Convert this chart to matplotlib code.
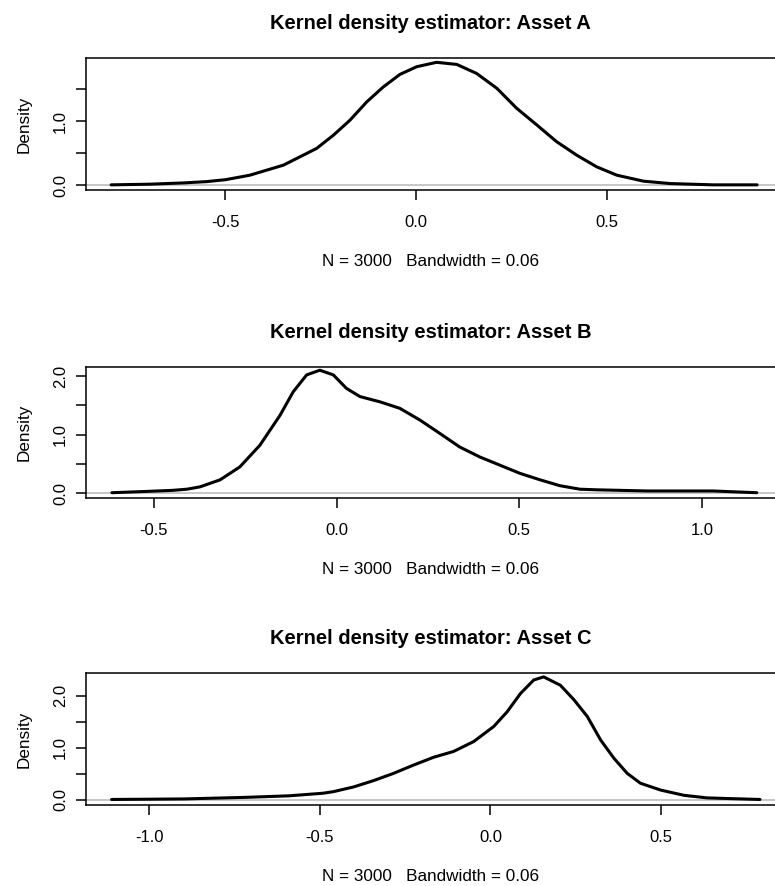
"""Three kernel density panels (Assets A, B, C) in the style of R's plot(density())."""
import matplotlib
matplotlib.use("Agg")
import matplotlib.pyplot as plt

plt.rcParams["font.family"] = ["Liberation Sans", "DejaVu Sans"]

# values
asset_a_x = [-0.80, -0.70, -0.61, -0.55, -0.50, -0.436, -0.348, -0.261, -0.217, -0.173,
             -0.129, -0.086, -0.042, 0.002, 0.054, 0.107, 0.159, 0.212, 0.264, 0.317,
             0.369, 0.422, 0.474, 0.527, 0.597, 0.667, 0.78, 0.895]
asset_a_y = [0.01, 0.02, 0.04, 0.06, 0.09, 0.16, 0.316, 0.575, 0.78, 1.016,
             1.30, 1.53, 1.726, 1.845, 1.913, 1.88, 1.74, 1.51, 1.20, 0.94,
             0.68, 0.47, 0.29, 0.16, 0.067, 0.03, 0.01, 0.01]

asset_b_x = [-0.615, -0.53, -0.45, -0.41, -0.374, -0.319, -0.265, -0.21, -0.155, -0.119,
             -0.082, -0.046, -0.009, 0.027, 0.064, 0.119, 0.173, 0.228, 0.283, 0.337,
             0.392, 0.447, 0.502, 0.557, 0.611, 0.666, 0.71, 0.85, 1.03, 1.15]
asset_b_y = [0.01, 0.03, 0.05, 0.07, 0.11, 0.23, 0.45, 0.82, 1.33, 1.73,
             2.02, 2.10, 2.02, 1.79, 1.65, 1.56, 1.45, 1.25, 1.02, 0.79,
             0.62, 0.48, 0.34, 0.23, 0.13, 0.07, 0.06, 0.04, 0.04, 0.01]

asset_c_x = [-1.11, -0.90, -0.72, -0.59, -0.49, -0.46, -0.401, -0.343, -0.284, -0.225,
             -0.166, -0.108, -0.049, 0.01, 0.049, 0.088, 0.127, 0.156, 0.205, 0.245,
             0.284, 0.323, 0.362, 0.401, 0.44, 0.499, 0.567, 0.635, 0.79]
asset_c_y = [0.01, 0.02, 0.05, 0.08, 0.13, 0.16, 0.25, 0.37, 0.51, 0.67,
             0.82, 0.93, 1.12, 1.41, 1.69, 2.04, 2.30, 2.36, 2.20, 1.92,
             1.60, 1.15, 0.80, 0.51, 0.32, 0.19, 0.09, 0.04, 0.01]

titles = ["Kernel density estimator: Asset A",
          "Kernel density estimator: Asset B",
          "Kernel density estimator: Asset C"]
subtitle = "N = 3000   Bandwidth = 0.06"

x_ticks = [[-0.5, 0.0, 0.5], [-0.5, 0.0, 0.5, 1.0], [-1.0, -0.5, 0.0, 0.5]]
y_ticks = [[0.0, 0.5, 1.0, 1.5], [0.0, 0.5, 1.0, 1.5, 2.0], [0.0, 0.5, 1.0, 1.5, 2.0]]
x_limits = [(-0.866, 0.942), (-0.686, 1.2), (-1.185, 0.834)]
y_limits = [(-0.07, 1.98), (-0.08, 2.16), (-0.096, 2.44)]

W, H = 775, 886
# (top, bottom) of each panel in pixels
panel_px = [(58, 190), (366.7, 498), (672.7, 805)]
left_px, right_px = 86, 775

fig = plt.figure(figsize=(W / 100, H / 100), dpi=100)

curves = [(asset_a_x, asset_a_y), (asset_b_x, asset_b_y), (asset_c_x, asset_c_y)]
for i, (xs, ys) in enumerate(curves):
    top, bottom = panel_px[i]
    ax = fig.add_axes([left_px / W, 1 - bottom / H, (right_px - left_px) / W, (bottom - top) / H])

    ax.axhline(0, color="#BEBEBE", linewidth=1.2, zorder=1)
    ax.plot(xs, ys, color="black", linewidth=2.2, zorder=2,
            solid_joinstyle="round", solid_capstyle="round")

    ax.set_xlim(*x_limits[i])
    ax.set_ylim(*y_limits[i])
    ax.set_xticks(x_ticks[i])
    ax.set_xticklabels([f"{t:.1f}" for t in x_ticks[i]])
    ax.set_yticks(y_ticks[i])
    # R drops the labels that would collide: only whole numbers are printed
    ax.set_yticklabels([f"{t:.1f}" if t == int(t) else "" for t in y_ticks[i]],
                       rotation=90, va="center")

    # the reference is cropped on the right, so no right-hand frame line
    ax.spines["right"].set_visible(False)
    for side in ("left", "top", "bottom"):
        ax.spines[side].set_linewidth(1.1)
    ax.tick_params(axis="both", direction="out", length=7, width=1.1,
                   labelsize=12, colors="black")
    ax.tick_params(axis="x", pad=11)
    ax.tick_params(axis="y", pad=6)

    ax.set_title(titles[i], fontsize=14.5, fontweight="bold", pad=21)
    ax.set_xlabel(subtitle, fontsize=12.3, labelpad=17)
    ax.set_ylabel("Density", fontsize=12.3, labelpad=15)

fig.savefig("out.png", dpi=100)
plt.close(fig)
